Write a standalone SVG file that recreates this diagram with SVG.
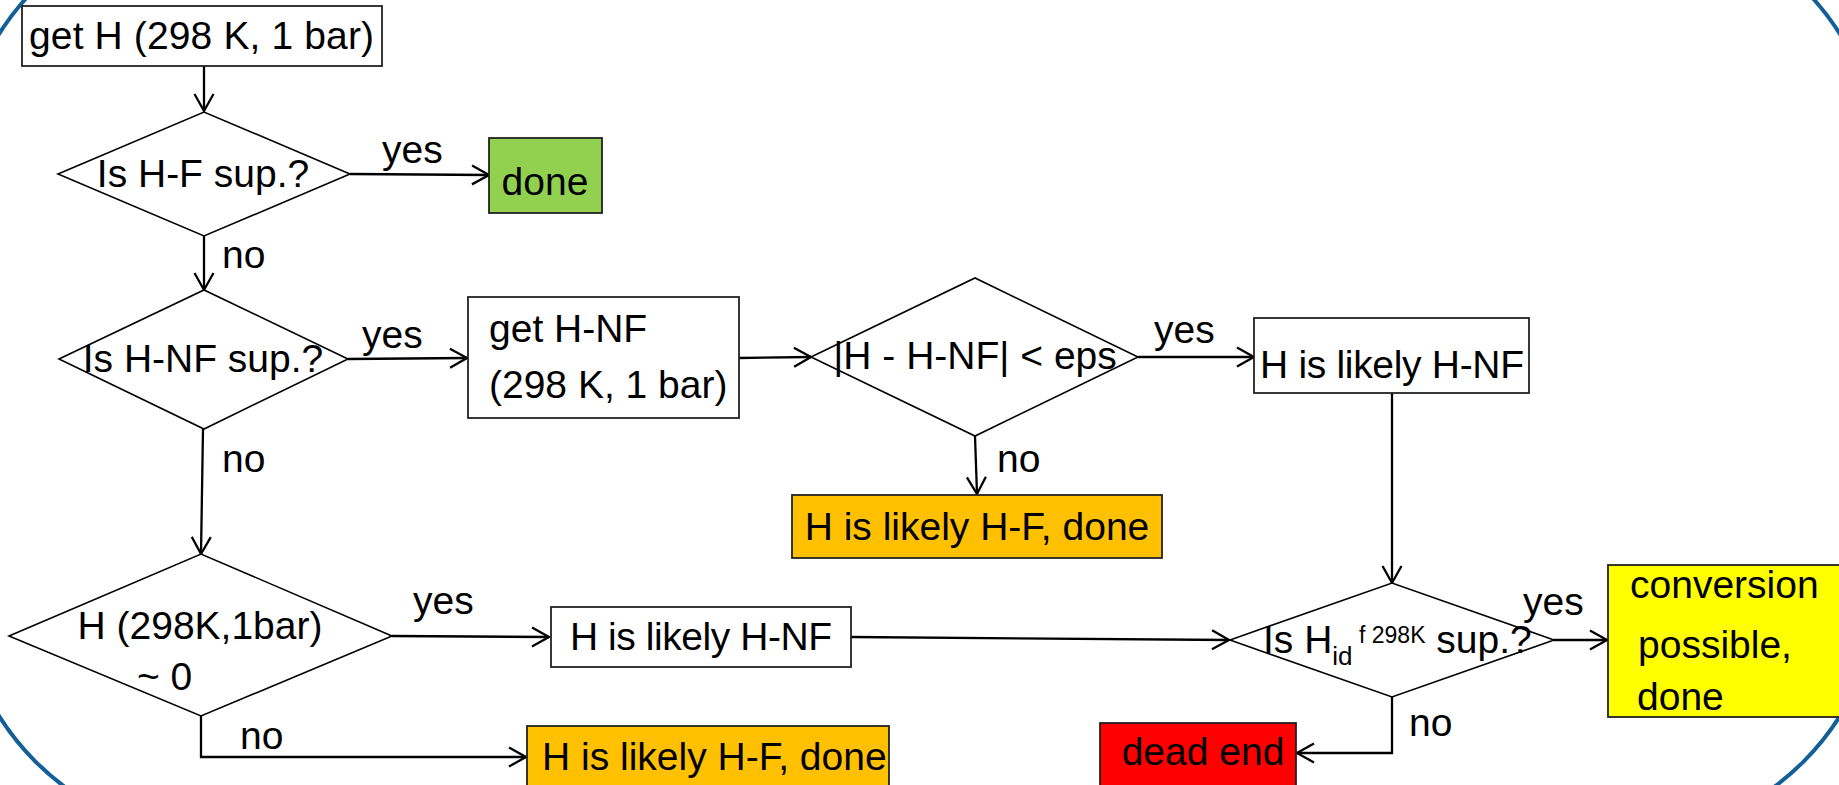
<svg xmlns="http://www.w3.org/2000/svg" width="1839" height="785" viewBox="0 0 1839 785">
  <style>
    .t { font-family: "Liberation Sans", Arial, sans-serif; font-size: 39px; fill: #000; }
    .mid { text-anchor: middle; }
    .sub { font-size: 26px; }
    .sup { font-size: 23px; }
    .box { stroke: #222; stroke-width: 1.8; }
    .dia { fill: #fff; stroke: #000; stroke-width: 1.6; }
    .conn { fill: none; stroke: #000; stroke-width: 2.3; marker-end: url(#arrow); }
  </style>
  <defs>
    <marker id="arrow" markerUnits="userSpaceOnUse" markerWidth="24" markerHeight="24" refX="0" refY="0" viewBox="-20 -12 24 24" orient="auto" overflow="visible">
      <path d="M-17,-9.5 L0,0 L-17,9.5" fill="none" stroke="#000" stroke-width="2.3"/>
    </marker>
  </defs>

  <rect width="1839" height="785" fill="#fff"/>

  <!-- slide frame -->
  <rect id="frame" x="-41" y="-88" width="1921" height="926" rx="261" ry="261" fill="none" stroke="#135f98" stroke-width="4"/>

  <!-- connectors -->
  <g id="connectors">
    <path class="conn" d="M204,66 L204,111"/>
    <path class="conn" d="M350,174 L489,175"/>
    <path class="conn" d="M204,236 L204,290"/>
    <path class="conn" d="M348,359 L467,358"/>
    <path class="conn" d="M739,358 L811,357"/>
    <path class="conn" d="M1138,357 L1254,357"/>
    <path class="conn" d="M975,436 L977,494"/>
    <path class="conn" d="M203,429 L201,554"/>
    <path class="conn" d="M392,636 L549,637"/>
    <path class="conn" d="M201,716 L201,757 L526,757"/>
    <path class="conn" d="M851,637 L1229,640"/>
    <path class="conn" d="M1392,393 L1392,583"/>
    <path class="conn" d="M1554,640 L1607,640"/>
    <path class="conn" d="M1392,697 L1392,753 L1297,753"/>
    <!-- branch labels -->
    <text class="t" x="382" y="163">yes</text>
    <text class="t" x="222" y="268">no</text>
    <text class="t" x="362" y="348">yes</text>
    <text class="t" x="222" y="472">no</text>
    <text class="t" x="413" y="614">yes</text>
    <text class="t" x="240" y="749">no</text>
    <text class="t" x="1154" y="343">yes</text>
    <text class="t" x="997" y="472">no</text>
    <text class="t" x="1523" y="615">yes</text>
    <text class="t" x="1409" y="736">no</text>
  </g>

  <g id="get-h">
    <rect class="box" x="22" y="6" width="360" height="60" fill="#fff"/>
    <text class="t" x="29" y="49" textLength="345">get H (298 K, 1 bar)</text>
  </g>

  <g id="is-hf-sup">
    <polygon class="dia" points="58,174 204,112 350,174 204,236"/>
    <text class="t mid" x="203" y="187">Is H-F sup.?</text>
  </g>

  <g id="done-1">
    <rect class="box" x="489" y="138" width="113" height="75" fill="#92d050"/>
    <text class="t mid" x="545" y="195">done</text>
  </g>

  <g id="is-hnf-sup">
    <polygon class="dia" points="59,359 204,290 348,359 204,429"/>
    <text class="t mid" x="203" y="372">Is H-NF sup.?</text>
  </g>

  <g id="get-hnf">
    <rect class="box" x="468" y="297" width="271" height="121" fill="#fff"/>
    <text class="t" x="489" y="342">get H-NF</text>
    <text class="t" x="489" y="398">(298 K, 1 bar)</text>
  </g>

  <g id="diff-check">
    <polygon class="dia" points="811,357 975,278 1138,357 975,436"/>
    <text class="t mid" x="975" y="369">|H - H-NF| &lt; eps</text>
  </g>

  <g id="likely-hnf-1">
    <rect class="box" x="1254" y="318" width="275" height="75" fill="#fff"/>
    <text class="t mid" x="1392" y="378" textLength="264">H is likely H-NF</text>
  </g>

  <g id="likely-hf-1">
    <rect class="box" x="792" y="495" width="370" height="63" fill="#ffc000"/>
    <text class="t mid" x="977" y="540">H is likely H-F, done</text>
  </g>

  <g id="h-near-zero">
    <polygon class="dia" points="9,636 201,554 392,636 201,716"/>
    <text class="t mid" x="200" y="639">H (298K,1bar)</text>
    <text class="t" x="137" y="690">~ 0</text>
  </g>

  <g id="likely-hnf-2">
    <rect class="box" x="551" y="607" width="300" height="60" fill="#fff"/>
    <text class="t mid" x="701" y="650" textLength="262">H is likely H-NF</text>
  </g>

  <g id="likely-hf-2">
    <rect class="box" x="527" y="726" width="362" height="64" fill="#ffc000"/>
    <text class="t" x="542" y="770">H is likely H-F, done</text>
  </g>

  <g id="hid-sup">
    <polygon class="dia" points="1230,640 1392,583 1554,640 1392,697"/>
    <text class="t" x="1263" y="653">Is H<tspan class="sub" dy="12">id</tspan><tspan class="sup" dy="-22"> f 298K</tspan><tspan dy="10"> sup.?</tspan></text>
  </g>

  <g id="conversion">
    <rect class="box" x="1608" y="565" width="240" height="152" fill="#ffff00"/>
    <text class="t" x="1630" y="598">conversion</text>
    <text class="t" x="1638" y="658">possible,</text>
    <text class="t" x="1637" y="710">done</text>
  </g>

  <g id="dead-end">
    <rect class="box" x="1100" y="723" width="196" height="70" fill="#ff0000"/>
    <text class="t mid" x="1203" y="765">dead end</text>
  </g>
</svg>
